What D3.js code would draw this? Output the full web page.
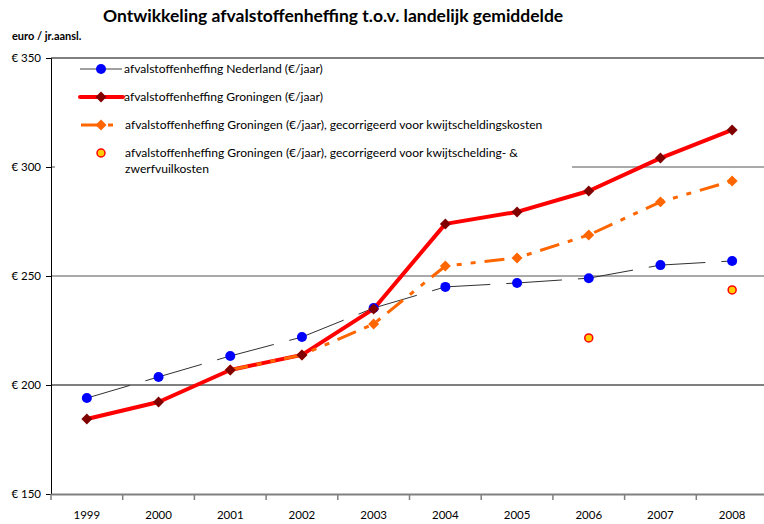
<!DOCTYPE html>
<html>
<head>
<meta charset="utf-8">
<script src="https://cdn.jsdelivr.net/npm/d3@7"></script>
<style>
  body { margin: 0; background: #fff; }
  text { font-family: Lato, "Open Sans", sans-serif; fill: #000; }
</style>
</head>
<body>
<script>
"use strict";

var years = ["1999", "2000", "2001", "2002", "2003", "2004", "2005", "2006", "2007", "2008"];
var nederland = [194, 203.7, 213.3, 222, 235.3, 245, 246.8, 249, 255, 256.9];
var groningen = [184.4, 192.2, 206.9, 213.8, 234.9, 273.9, 279.4, 289, 304.1, 317];
var gecorrigeerd = [null, null, 206.9, 213.8, 228, 254.6, 258.3, 268.8, 284, 293.6];
var zwerfvuil = [null, null, null, null, null, null, null, 221.6, null, 243.6];
var yTicks = [150, 200, 250, 300, 350];

var labels = [
  "afvalstoffenheffing Nederland (€/jaar)",
  "afvalstoffenheffing Groningen (€/jaar)",
  "afvalstoffenheffing Groningen (€/jaar), gecorrigeerd voor kwijtscheldingskosten",
  "afvalstoffenheffing Groningen (€/jaar), gecorrigeerd voor kwijtschelding- &",
  "zwerfvuilkosten"
];

var width = 764;
var height = 524;
var margin = { top: 58, left: 51, right: -4, bottom: 30 };

var svg = d3.select("body").append("svg")
  .attr("width", width)
  .attr("height", height);

var xScale = d3.scaleBand()
  .domain(years)
  .range([margin.left, width - margin.right])
  .padding(0);

var yScale = d3.scaleLinear()
  .domain([150, 350])
  .range([height - margin.bottom, margin.top]);

var cx = function(i) { return xScale(years[i]) + xScale.bandwidth() / 2; };

// titles
svg.append("text")
  .attr("x", 103).attr("y", 22)
  .style("font-size", "17.5px").style("font-weight", "bold")
  .text("Ontwikkeling afvalstoffenheffing t.o.v. landelijk gemiddelde");

svg.append("text")
  .attr("x", 12).attr("y", 40)
  .style("font-size", "11px").style("font-weight", "bold")
  .text("euro / jr.aansl.");

// gridlines
svg.append("g")
  .selectAll("line")
  .data(yTicks.slice(1))
  .enter()
  .append("line")
  .attr("x1", margin.left).attr("x2", width)
  .attr("y1", function(d) { return yScale(d); })
  .attr("y2", function(d) { return yScale(d); })
  .attr("stroke", function(d) { return d == 350 || d == 200 ? "#000" : "#555"; })
  .attr("stroke-width", 1);

// y axis
var yAxis = svg.append("g")
  .attr("transform", "translate(" + margin.left + ",0)")
  .call(d3.axisLeft(yScale).tickValues(yTicks).tickSize(5).tickPadding(5)
    .tickFormat(function(d) { return "€ " + d; }));
yAxis.select(".domain").attr("stroke", "#000");
yAxis.selectAll(".tick line").attr("stroke", "#000");
yAxis.selectAll("text").style("font-size", "11.5px").style("font-family", "Lato, sans-serif");

// x axis
var xAxis = svg.append("g")
  .attr("transform", "translate(0," + yScale(150) + ")")
  .call(d3.axisBottom(xScale).tickSize(0).tickPadding(17));
xAxis.select(".domain").attr("stroke", "#808080").attr("stroke-width", 2);
xAxis.selectAll("text").style("font-size", "11.5px").style("font-family", "Lato, sans-serif");
xAxis.append("g")
  .selectAll("line")
  .data(years)
  .enter()
  .append("line")
  .attr("x1", function(d) { return xScale(d); })
  .attr("x2", function(d) { return xScale(d); })
  .attr("y1", 0).attr("y2", 6)
  .attr("stroke", "#808080").attr("stroke-width", 1.5);

// legend box (covers gridlines)
var legend = svg.append("g");
legend.append("rect")
  .attr("x", 55).attr("y", 59).attr("width", 517).attr("height", 120)
  .attr("fill", "#fff");

var chartArea = svg.append("g");

// Nederland line, dashed per segment
var nlSegs = d3.pairs(d3.range(years.length));
chartArea.append("g")
  .selectAll("line")
  .data(nlSegs)
  .enter()
  .append("line")
  .attr("x1", function(d) { return cx(d[0]); })
  .attr("y1", function(d) { return yScale(nederland[d[0]]); })
  .attr("x2", function(d) { return cx(d[1]); })
  .attr("y2", function(d) { return yScale(nederland[d[1]]); })
  .attr("stroke", "#303030")
  .attr("stroke-width", 1)
  .attr("stroke-dasharray", "45,16");

var line = function(vals) {
  return d3.line()
    .defined(function(d) { return d != null; })
    .x(function(d, i) { return cx(i); })
    .y(function(d) { return yScale(d); })(vals);
};

chartArea.append("path")
  .attr("d", line(groningen))
  .attr("fill", "none")
  .attr("stroke", "#ff0000")
  .attr("stroke-width", 4)
  .attr("stroke-linejoin", "round");

chartArea.append("path")
  .attr("d", line(gecorrigeerd))
  .attr("fill", "none")
  .attr("stroke", "#ff6600")
  .attr("stroke-width", 3)
  .attr("stroke-dasharray", "20,9,5,9,5,9")
  .attr("stroke-dashoffset", 2);

var diamond = d3.symbol().type(d3.symbolSquare).size(60);

// markers
chartArea.append("g")
  .selectAll("path")
  .data(gecorrigeerd.map(function(d, i) { return [d, i]; }).filter(function(d) { return d[0] != null; }))
  .enter()
  .append("path")
  .attr("d", diamond)
  .attr("transform", function(d) { return "translate(" + cx(d[1]) + "," + yScale(d[0]) + ") rotate(45)"; })
  .attr("fill", "#ff6600");

chartArea.append("g")
  .selectAll("circle")
  .data(nederland)
  .enter()
  .append("circle")
  .attr("cx", function(d, i) { return cx(i); })
  .attr("cy", function(d) { return yScale(d); })
  .attr("r", 5)
  .attr("fill", "#0000ff");

chartArea.append("g")
  .selectAll("path")
  .data(groningen)
  .enter()
  .append("path")
  .attr("d", diamond)
  .attr("transform", function(d, i) { return "translate(" + cx(i) + "," + yScale(d) + ") rotate(45)"; })
  .attr("fill", "#800000");

chartArea.append("g")
  .selectAll("circle")
  .data(zwerfvuil.map(function(d, i) { return [d, i]; }).filter(function(d) { return d[0] != null; }))
  .enter()
  .append("circle")
  .attr("cx", function(d) { return cx(d[1]); })
  .attr("cy", function(d) { return yScale(d[0]); })
  .attr("r", 4)
  .attr("fill", "#ffcc00")
  .attr("stroke", "#ff0000")
  .attr("stroke-width", 1.5);

// legend entries
var ly = [69, 97, 125, 153];
var lx1 = 80, lx2 = 122, lm = 101;

legend.append("line")
  .attr("x1", lx1).attr("x2", lx2).attr("y1", ly[0]).attr("y2", ly[0])
  .attr("stroke", "#808080").attr("stroke-width", 1.5);
legend.append("circle")
  .attr("cx", lm).attr("cy", ly[0]).attr("r", 5).attr("fill", "#0000ff");

legend.append("line")
  .attr("x1", lx1).attr("x2", lx2 + 1).attr("y1", ly[1]).attr("y2", ly[1])
  .attr("stroke", "#ff0000").attr("stroke-width", 4).attr("stroke-linecap", "round");
legend.append("path")
  .attr("d", diamond)
  .attr("transform", "translate(" + lm + "," + ly[1] + ") rotate(45)")
  .attr("fill", "#800000");

legend.append("line")
  .attr("x1", 81).attr("x2", 99).attr("y1", ly[2]).attr("y2", ly[2])
  .attr("stroke", "#ff6600").attr("stroke-width", 3);
legend.append("line")
  .attr("x1", 108).attr("x2", 113).attr("y1", ly[2]).attr("y2", ly[2])
  .attr("stroke", "#ff6600").attr("stroke-width", 3);
legend.append("path")
  .attr("d", diamond)
  .attr("transform", "translate(" + lm + "," + ly[2] + ") rotate(45)")
  .attr("fill", "#ff6600");

legend.append("circle")
  .attr("cx", lm).attr("cy", ly[3]).attr("r", 4)
  .attr("fill", "#ffcc00").attr("stroke", "#ff0000").attr("stroke-width", 1.5);

var textX = [124, 124, 125, 125, 125];
var textY = [ly[0], ly[1], ly[2], ly[3], ly[3] + 16];
legend.selectAll("text.leg")
  .data(labels)
  .enter()
  .append("text")
  .attr("class", "leg")
  .attr("x", function(d, i) { return textX[i]; })
  .attr("y", function(d, i) { return textY[i]; })
  .attr("dy", "0.35em")
  .style("font-size", "12.1px")
  .text(function(d) { return d; });
</script>
</body>
</html>
